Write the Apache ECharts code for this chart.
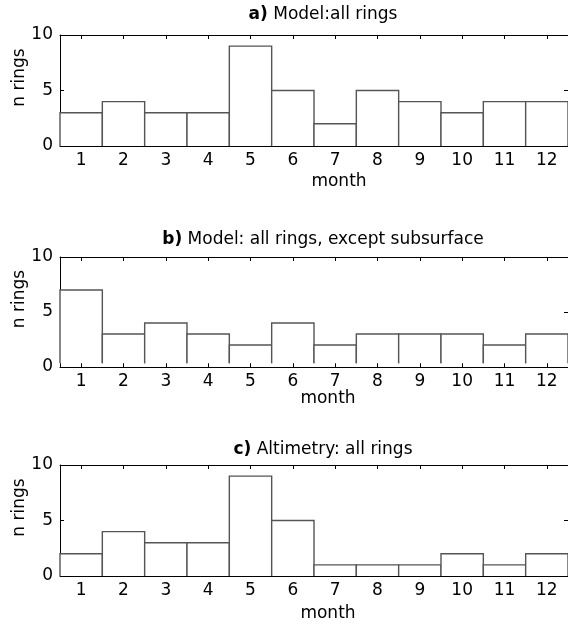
<!DOCTYPE html>
<html><head><meta charset="utf-8">
<script src="https://cdn.jsdelivr.net/npm/echarts@6/dist/echarts.min.js"></script>
<style>html,body{margin:0;padding:0;background:#fff;}#c{width:568px;height:626px;}</style>
</head><body><div id="c"></div>
<script>
const months = ['1','2','3','4','5','6','7','8','9','10','11','12'];
const ringsA = [3,4,3,3,9,5,2,5,4,3,4,4];
const ringsB = [7,3,4,3,2,4,2,3,3,3,2,3];
const ringsC = [2,4,3,3,9,5,1,1,1,2,1,2];
const yMin = 0, yMax = 10, yInterval = 5;
const panelTitles = [['a)', ' Model:all rings'], ['b)', ' Model: all rings, except subsurface'], ['c)', ' Altimetry: all rings']];
const panelData = [ringsA, ringsB, ringsC];
const panelBase = [0, 0.35, 0];
const xName = 'month', yName = 'n rings';

const FONT = 'DejaVu Sans';
const FS = 17;
const gridTops = [35, 257, 465];
const gridHeights = [111, 110, 111];
const titleY = [15, 240, 450];
const monthPos = [[339, 182], [328, 399], [328, 614]];

const grids = [], xAxes = [], yAxes = [], series = [], graphics = [];
function render(base) {
  return function (params, api) {
    const i = api.value(0), v = api.value(1);
    const top = api.coord([i, v]);
    const bot = api.coord([i, base]);
    const w = api.size([1, 0])[0];
    const x0 = top[0] - w / 2, x1 = top[0] + w / 2;
    return {
      type: 'group',
      children: [
        { type: 'rect', shape: { x: x0, y: top[1], width: w, height: bot[1] - top[1] }, style: { fill: '#fff' } },
        { type: 'polyline', shape: { points: [[x0, bot[1]], [x0, top[1]], [x1, top[1]], [x1, bot[1]]] },
          style: { stroke: '#555', fill: null, lineWidth: 1.4 } }
      ]
    };
  };
}
for (let p = 0; p < 3; p++) {
  grids.push({ left: 60, right: -2, top: gridTops[p], height: gridHeights[p] });
  const lineS = { show: true, onZero: false, lineStyle: { color: '#000', width: 1 } };
  const tickS = { show: true, inside: true, length: 4, alignWithLabel: true, interval: 0, lineStyle: { color: '#000' } };
  xAxes.push({ type: 'category', gridIndex: p, data: months, position: 'bottom', boundaryGap: true,
    axisLine: lineS, axisTick: tickS,
    axisLabel: { fontFamily: FONT, fontSize: FS, color: '#000', margin: 6, interval: 0 }, splitLine: { show: false } });
  xAxes.push({ type: 'category', gridIndex: p, data: months, position: 'top', boundaryGap: true,
    axisLine: lineS, axisTick: tickS,
    axisLabel: { show: true, interval: 0, color: 'rgba(0,0,0,0)', formatter: function () { return ''; } }, splitLine: { show: false } });
  yAxes.push({ type: 'value', gridIndex: p, min: yMin, max: yMax, interval: yInterval, position: 'left',
    axisLine: lineS, axisTick: { show: true, inside: true, length: 4, lineStyle: { color: '#000' } },
    axisLabel: { fontFamily: FONT, fontSize: FS, color: '#000', margin: 7 }, splitLine: { show: false } });
  yAxes.push({ type: 'value', gridIndex: p, min: yMin, max: yMax, interval: yInterval, position: 'right',
    axisLine: lineS, axisTick: { show: true, inside: true, length: 4, lineStyle: { color: '#000' } },
    axisLabel: { show: false }, splitLine: { show: false } });
  series.push({ type: 'custom', xAxisIndex: 2 * p, yAxisIndex: 2 * p, renderItem: render(panelBase[p]),
    data: panelData[p].map((v, i) => [i, v]), clip: false, z: 3 });
  graphics.push({ type: 'text', x: 323, y: titleY[p], z: 10,
    style: { text: '{b|' + panelTitles[p][0] + '}' + panelTitles[p][1], fontFamily: FONT, fontSize: FS, fill: '#000',
      align: 'center', verticalAlign: 'middle', rich: { b: { fontWeight: 'bold', fontFamily: FONT, fontSize: FS } } } });
  graphics.push({ type: 'text', x: monthPos[p][0], y: monthPos[p][1], z: 10,
    style: { text: xName, fontFamily: FONT, fontSize: FS, fill: '#000', align: 'center', verticalAlign: 'middle' } });
  graphics.push({ type: 'text', x: 20, y: gridTops[p] + gridHeights[p] / 2 - 13, rotation: Math.PI / 2, z: 10,
    style: { text: yName, fontFamily: FONT, fontSize: FS, fill: '#000', align: 'center', verticalAlign: 'middle' } });
}
const chart = echarts.init(document.getElementById('c'), null, { renderer: 'canvas' });
chart.setOption({ animation: false, backgroundColor: '#fff', grid: grids, xAxis: xAxes, yAxis: yAxes, series: series, graphic: graphics });
</script></body></html>
